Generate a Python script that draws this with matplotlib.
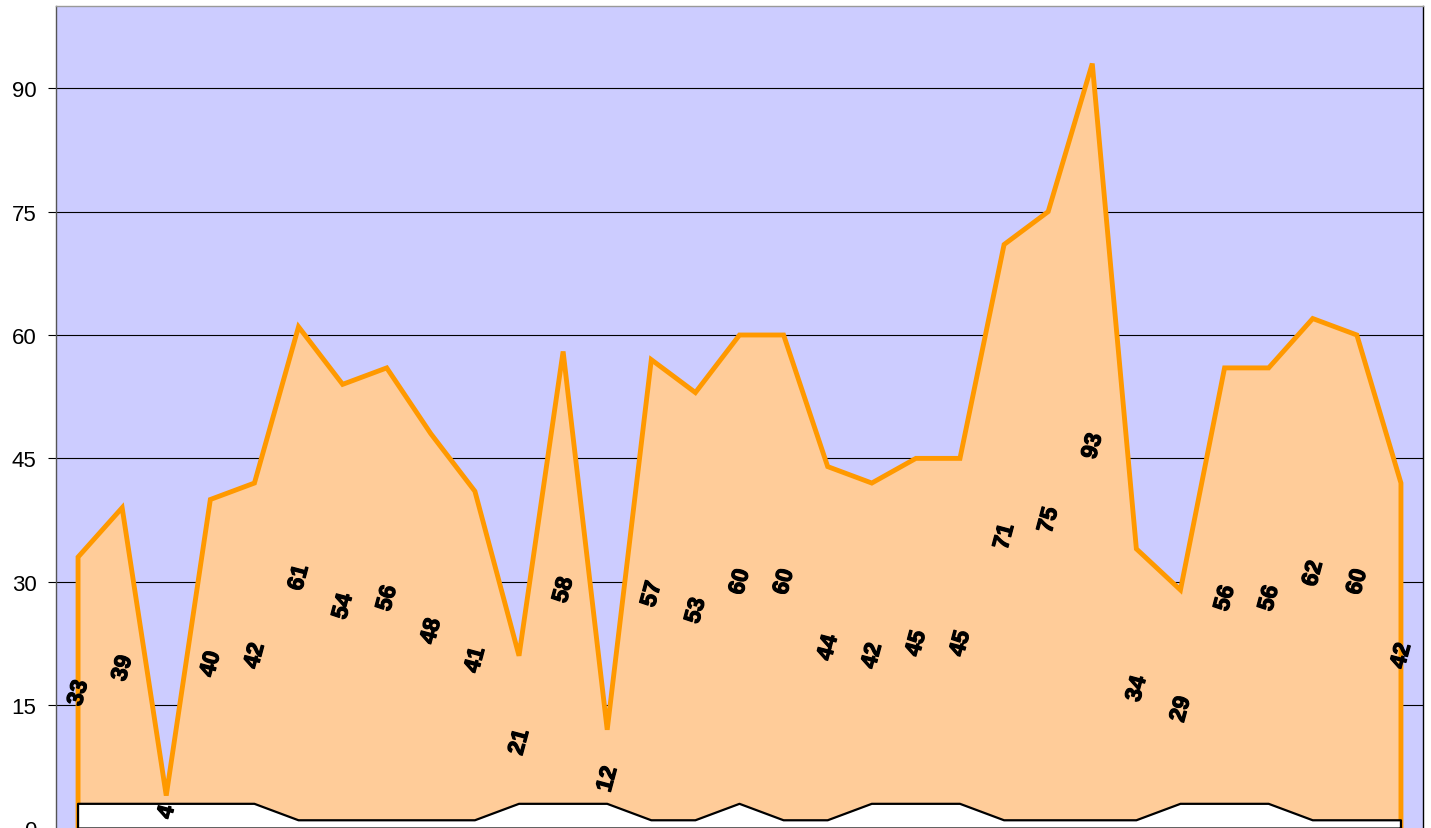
import numpy as np
from matplotlib import pyplot as plt
from matplotlib import patheffects

# values of the orange area series
values = [33, 39, 4, 40, 42, 61, 54, 56, 48, 41, 21, 58, 12, 57, 53, 60, 60,
          44, 42, 45, 45, 71, 75, 93, 34, 29, 56, 56, 62, 60, 42]
# values of the small white series along the bottom
base = [3, 3, 3, 3, 3, 1, 1, 1, 1, 1, 3, 3, 3, 1, 1, 3, 1,
        1, 3, 3, 3, 1, 1, 1, 1, 3, 3, 3, 1, 1, 1]
yticks = [0, 15, 30, 45, 60, 75, 90]

BG = '#CCCCFF'
FILL = '#FFCC99'
LINE = '#FF9900'

plt.rcParams['font.family'] = ['Liberation Sans', 'DejaVu Sans']

fig = plt.figure(figsize=(14.31, 8.29), dpi=100)
ax = fig.add_axes([56 / 1431, -0.5 / 829, 1367 / 1431, 822.5 / 829])
ax.set_facecolor(BG)

x = np.arange(len(values))

# gridlines behind everything
for t in yticks[1:]:
    ax.axhline(t, color='black', lw=0.8, zorder=1)

# orange area with outline
ax.fill_between(x, 0, values, color=FILL, zorder=2, lw=0)
ax.plot(np.r_[x[0], x, x[-1]], np.r_[0, values, 0], color=LINE, lw=3.5,
        solid_joinstyle='miter', zorder=3)

# white bottom series
ax.fill_between(x, 0, base, color='white', zorder=4, lw=0)
ax.plot(np.r_[x[-1], x[0], x, x[-1]], np.r_[0, 0, base, 0], color='black',
        lw=1.6, zorder=5)

# data labels at half height
thick = [patheffects.withStroke(linewidth=0.9, foreground='black')]
for i, v in enumerate(values):
    ax.text(i, v / 2, str(v), rotation=75, rotation_mode='anchor',
            ha='center', va='center', fontsize=16.5, fontweight='bold',
            family='Liberation Sans', color='black', zorder=6,
            path_effects=thick)

ax.set_xlim(-0.5, len(values) - 0.5)
ax.set_ylim(0, 100)
ax.set_yticks(yticks)
ax.set_yticklabels([str(t) for t in yticks])
ax.tick_params(axis='y', length=6, width=0.8, labelsize=16, pad=8)
ax.set_xticks([])

ax.spines['left'].set_color('#555555')
ax.spines['top'].set_color('#999999')
ax.spines['right'].set_color('black')
ax.spines['bottom'].set_visible(False)
for s in ax.spines.values():
    s.set_linewidth(1)

fig.savefig('out.png', dpi=100)
